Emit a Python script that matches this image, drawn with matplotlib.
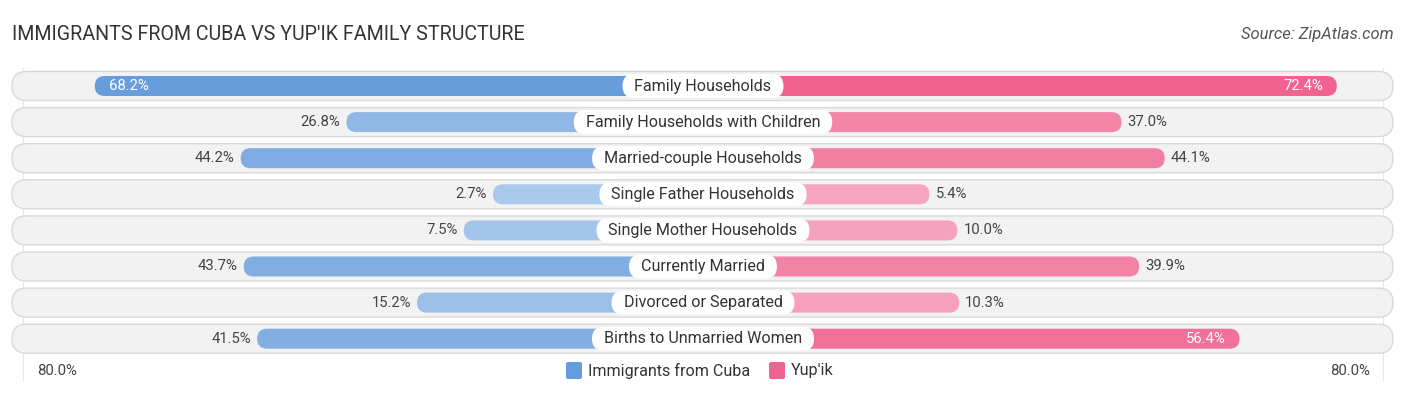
import matplotlib.pyplot as plt
from matplotlib.patches import FancyBboxPatch
import numpy as np

plt.rcParams['font.family'] = ['Roboto', 'DejaVu Sans']

categories = ["Family Households", "Family Households with Children",
              "Married-couple Households", "Single Father Households",
              "Single Mother Households", "Currently Married",
              "Divorced or Separated", "Births to Unmarried Women"]
cuba = [68.2, 26.8, 44.2, 2.7, 7.5, 43.7, 15.2, 41.5]
yupik = [72.4, 37.0, 44.1, 5.4, 10.0, 39.9, 10.3, 56.4]
series_names = ["Immigrants from Cuba", "Yup'ik"]
axis_max = 80.0

W, H = 1406, 395
CX = 703.0        # centre line (px)
OFF = 193.6       # bar offset behind label (px)
PPU = 6.08        # px per percent
ROW0, ROWSTEP = 86.0, 36.1

blue_dark, blue_light = np.array([0.40, 0.61, 0.86]), np.array([0.67, 0.79, 0.93])
pink_dark, pink_light = np.array([0.94, 0.39, 0.57]), np.array([0.97, 0.67, 0.77])


def xpos(v, side):
    return CX + side * (OFF + PPU * v)


def shade(dark, light, v):
    t = min(v / 70.0, 1.0)
    return light + (dark - light) * t


fig = plt.figure(figsize=(W / 100, H / 100), dpi=100)
ax = fig.add_axes([0, 0, 1, 1])
ax.set_xlim(0, W)
ax.set_ylim(H, 0)
ax.axis('off')
renderer = fig.canvas.get_renderer()

fig.text(12 / W, 1 - 34 / H, "IMMIGRANTS FROM CUBA VS YUP'IK FAMILY STRUCTURE",
         fontsize=14.1, color='#333333', va='center', ha='left')
fig.text(1394 / W, 1 - 34 / H, "Source: ZipAtlas.com", fontsize=11.9,
         color='#555555', style='italic', va='center', ha='right')

# faint gridlines at +-80%
for s in (-1, 1):
    ax.plot([xpos(axis_max, s)] * 2, [68, 380], color='#e6e6e6', lw=0.8, zorder=0)

for i, cat in enumerate(categories):
    y = ROW0 + i * ROWSTEP
    # background pill
    ax.add_patch(FancyBboxPatch((12, y - 14.5), 1381, 29,
                                boxstyle="round,pad=0,rounding_size=14.5",
                                fc='#f2f2f2', ec='#d9d9d9', lw=1.0, zorder=1))
    for vals, side, dark, light in ((cuba, -1, blue_dark, blue_light),
                                    (yupik, 1, pink_dark, pink_light)):
        v = vals[i]
        x_end = xpos(v, side)
        x0 = min(CX, x_end)
        w = abs(x_end - CX)
        ax.add_patch(FancyBboxPatch((x0, y - 10), w, 20,
                                    boxstyle="round,pad=0,rounding_size=10",
                                    fc=shade(dark, light, v), ec='none', zorder=2))
        lbl = f"{v:.1f}%"
        if v > 50:
            ax.text(x_end - side * 14, y, lbl, color='white', fontsize=10.7,
                    ha='left' if side < 0 else 'right', va='center', zorder=5)
        else:
            ax.text(x_end + side * 6, y, lbl, color='#444444', fontsize=10.7,
                    ha='right' if side < 0 else 'left', va='center', zorder=5)
    t = ax.text(CX, y, cat, fontsize=11.6, color='#333333', ha='center',
                va='center', zorder=6)
    tw = t.get_window_extent(renderer).width
    bw = tw + 24
    ax.add_patch(FancyBboxPatch((CX - bw / 2, y - 12), bw, 24,
                                boxstyle="round,pad=0,rounding_size=12",
                                fc='white', ec='none', zorder=5.5))

# axis labels
ax.text(37, 371, f"{axis_max:.1f}%", fontsize=10.7, color='#444444',
        ha='left', va='center')
ax.text(1370, 371, f"{axis_max:.1f}%", fontsize=10.7, color='#444444',
        ha='right', va='center')

# legend
lx = 566
for name, col in zip(series_names, (blue_dark, pink_dark)):
    ax.add_patch(FancyBboxPatch((lx, 362), 16, 17,
                                boxstyle="round,pad=0,rounding_size=2",
                                fc=col, ec='none'))
    ax.text(lx + 22, 371, name, fontsize=11.6, color='#333333',
            ha='left', va='center')
    lx = 769

fig.savefig("out.png", dpi=100)
